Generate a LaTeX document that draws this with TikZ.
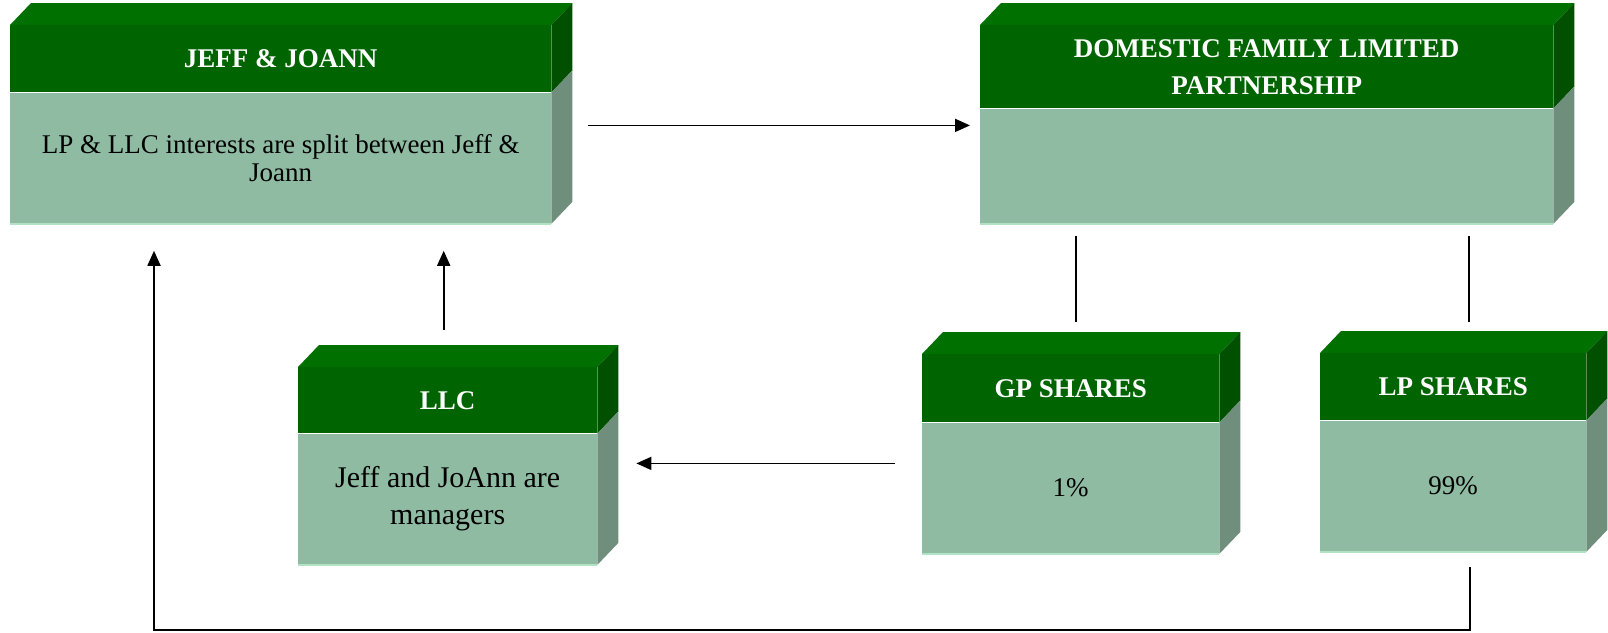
\documentclass[tikz,border=0pt]{standalone}
\usepackage{fontspec}
\setmainfont{Liberation Serif}
\definecolor{topgreen}{RGB}{0,112,0}
\definecolor{hdgreen}{RGB}{0,100,0}
\definecolor{hdside}{RGB}{0,80,0}
\definecolor{bdgreen}{RGB}{143,187,163}
\definecolor{bdside}{RGB}{111,143,124}
\definecolor{mintline}{RGB}{178,226,196}
\usetikzlibrary{arrows.meta,positioning,calc}

\begin{document}
\begin{tikzpicture}[x=1pt, y=-1pt,
    head/.style={fill=hdgreen, text=white, font=\fontsize{27}{37}\selectfont\bfseries,
      align=center, inner sep=0pt, anchor=north west},
    body/.style={fill=bdgreen, text=black, font=\fontsize{27}{28}\selectfont,
      align=center, inner sep=0pt},
    arr/.style={-{Triangle[length=15pt,width=13pt]}, line width=1.8pt},
    link/.style={line width=1.8pt}]
  \useasboundingbox (0,0) rectangle (1608,632);
  % depth of the slabs
  \def\dx{21}
  \def\dy{22}

  % Jeff & Joann
  \node[head, minimum width=541pt, minimum height=67pt] (jeff-hd) at (10,25) {JEFF \& JOANN};
  \node[body, minimum width=541pt, minimum height=131pt, below=0pt of jeff-hd] (jeff-bd)
    {LP \& LLC interests are split between Jeff \&\\Joann};

  % Family limited partnership
  \node[head, minimum width=573pt, minimum height=83pt] (dfp-hd) at (980,25)
    {DOMESTIC FAMILY LIMITED\\PARTNERSHIP};
  \node[body, minimum width=573pt, minimum height=115pt, below=0pt of dfp-hd] (dfp-bd) {};

  % LLC
  \node[head, minimum width=299pt, minimum height=66pt] (llc-hd) at (298,367) {LLC};
  \node[body, minimum width=299pt, minimum height=131pt, below=0pt of llc-hd,
    font=\fontsize{30}{37}\selectfont] (llc-bd) {Jeff and JoAnn are\\managers};

  % GP and LP shares
  \node[head, minimum width=297pt, minimum height=68pt] (gp-hd) at (922,354) {GP SHARES};
  \node[body, minimum width=297pt, minimum height=131pt, below=0pt of gp-hd] (gp-bd) {1\%};
  \node[head, minimum width=266pt, minimum height=67pt] (lp-hd) at (1320,353) {LP SHARES};
  \node[body, minimum width=266pt, minimum height=131pt, below=0pt of lp-hd] (lp-bd) {99\%};

  % Top and side faces
  \foreach \n in {jeff,dfp,llc,gp,lp}{
    \fill[topgreen] (\n-hd.north west) -- ++(\dx,-\dy)
      -- ($(\n-hd.north east)+(\dx,-\dy)$) -- (\n-hd.north east) -- cycle;
    \fill[hdside] (\n-hd.north east) -- ++(\dx,-\dy)
      -- ($(\n-hd.south east)+(\dx,-\dy)$) -- (\n-hd.south east) -- cycle;
    \fill[bdside] (\n-bd.north east) -- ++(\dx,-\dy)
      -- ($(\n-bd.south east)+(\dx,-\dy)$) -- (\n-bd.south east) -- cycle;
    \draw[mintline, line width=2pt] (\n-bd.south west) -- (\n-bd.south east);
  }

  % Connectors
  \draw[arr] ($(jeff-bd.north east)+(37,33)$) -- ($(dfp-bd.north west)+(-10,17)$);
  \draw[link] ($(gp-hd.north)+(5,-32)$) -- ($(gp-hd.north |- dfp-bd.south)+(5,12)$);
  \draw[link] ($(lp-hd.north)+(16,-31)$) -- ($(lp-hd.north |- dfp-bd.south)+(16,12)$);
  \draw[arr] ($(llc-hd.north)+(-4,-37)$) -- ($(jeff-bd.south -| llc-hd.north)+(-4,27)$);
  \draw[arr] ($(gp-bd.north west)+(-27,41)$) -- ($(llc-bd.north east)+(39,30)$);
  \draw[arr] ($(lp-bd.south)+(17,15)$) -- ++(0,63) -| ($(jeff-bd.south west)+(144,27)$);
\end{tikzpicture}
\end{document}
